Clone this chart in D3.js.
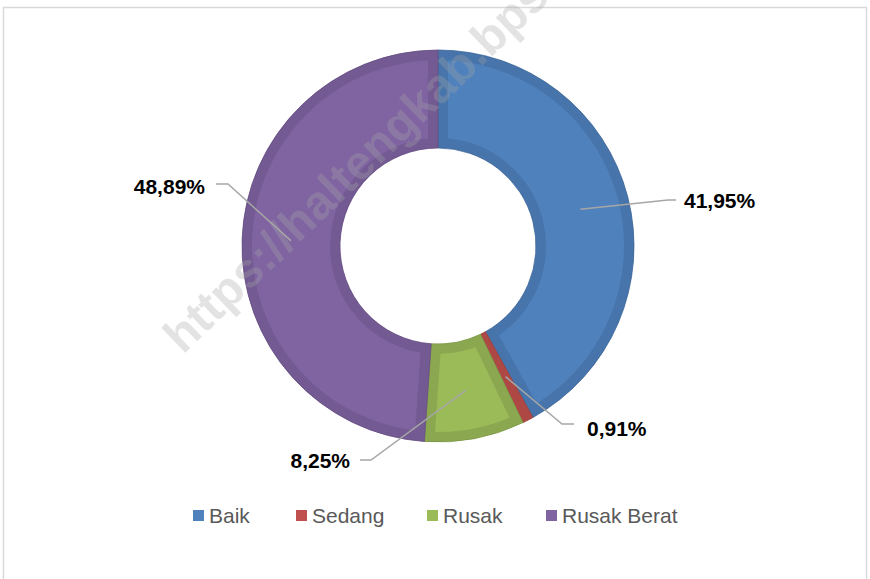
<!DOCTYPE html>
<html>
<head>
<meta charset="utf-8">
<script src="https://cdn.jsdelivr.net/npm/d3@7"></script>
<style>
  body { margin: 0; background: #fff; }
  svg { display: block; }
</style>
</head>
<body>
<svg id="drawing_region"></svg>
<script>
var categories = ['Baik', 'Sedang', 'Rusak', 'Rusak Berat'];
var values = [41.95, 0.91, 8.25, 48.89];
var labels = ['41,95%', '0,91%', '8,25%', '48,89%'];
var colors = ['#4F81BD', '#C0504D', '#9BBB59', '#8064A2'];

var width = 870, height = 579;
var cx = 438, cy = 246;
var outerR = 196, innerR = 98;

// where each label sits (elbow of the leader line, text anchor)
var labelLayout = [
    { ex: 230, ey: -46, hx: 238, tx: 246, ty: -38, anchor: 'start' },
    { ex: 124, ey: 178, hx: 136, tx: 149, ty: 190, anchor: 'start' },
    { ex: -67, ey: 214, hx: -78, tx: -88, ty: 222, anchor: 'end' },
    { ex: -210, ey: -62, hx: -222, tx: -233, ty: -52, anchor: 'end' }
];

var data = categories.map(function(c, i) {
    return { name: c, value: values[i], label: labels[i], color: colors[i] };
});

var svg = d3.select('#drawing_region')
    .attr('width', width)
    .attr('height', height);

// frame
svg.append('rect')
    .attr('x', 3.5).attr('y', 7.5)
    .attr('width', 863).attr('height', 600)
    .attr('fill', '#fff')
    .attr('stroke', '#d9d9d9')
    .attr('stroke-width', 1.5);

var g = svg.append('g')
    .attr('transform', 'translate(' + cx + ',' + cy + ')');

var pie = d3.pie()
    .value(function(d) { return d.value; })
    .sort(null);

var arc = d3.arc()
    .innerRadius(innerR)
    .outerRadius(outerR);

var arcs = pie(data);

var defs = svg.append('defs');
arcs.forEach(function(a, i) {
    defs.append('clipPath')
        .attr('id', 'clip' + i)
        .append('path')
        .attr('d', arc(a));
});

var slices = g.selectAll('g.slice')
    .data(arcs)
    .enter()
    .append('g')
    .attr('class', 'slice');

slices.append('path')
    .attr('d', arc)
    .attr('fill', function(d) { return d.data.color; })
    .attr('clip-path', function(d, i) { return 'url(#clip' + i + ')'; })
    .attr('stroke', function(d) { return d3.color(d.data.color).darker(0.3); })
    .attr('stroke-width', 20);

slices.append('path')
    .attr('d', arc)
    .attr('fill', 'none')
    .attr('stroke', function(d) { return d3.color(d.data.color).darker(0.6); })
    .attr('stroke-width', 0.8);

// leader lines
var midArc = d3.arc()
    .innerRadius((innerR + outerR) / 2)
    .outerRadius((innerR + outerR) / 2);

arcs.forEach(function(a, i) {
    var p = midArc.centroid(a);
    var L = labelLayout[i];
    g.append('polyline')
        .attr('points', [p, [L.ex, L.ey], [L.hx, L.ey]].map(function(q) { return q.join(','); }).join(' '))
        .attr('fill', 'none')
        .attr('stroke', '#a6a6a6')
        .attr('stroke-width', 1.5);
    g.append('text')
        .attr('x', L.tx)
        .attr('y', L.ty)
        .attr('text-anchor', L.anchor)
        .style('font-family', 'Liberation Sans, Arial, sans-serif')
        .style('font-weight', 'bold')
        .style('font-size', '21px')
        .attr('fill', '#000')
        .text(a.data.label);
});

// legend
var legendX = [193, 296, 427, 546];
var legend = svg.append('g');
data.forEach(function(d, i) {
    legend.append('rect')
        .attr('x', legendX[i]).attr('y', 510)
        .attr('width', 11).attr('height', 11)
        .attr('fill', d.color);
    legend.append('text')
        .attr('x', legendX[i] + 16)
        .attr('y', 523)
        .style('font-family', 'Liberation Sans, Arial, sans-serif')
        .style('font-size', '21px')
        .attr('fill', '#595959')
        .text(d.name);
});

// watermark
svg.append('text')
    .attr('transform', 'translate(183,355) rotate(-44)')
    .style('font-family', 'Liberation Sans, Arial, sans-serif')
    .style('font-weight', 'bold')
    .style('font-size', '48px')
    .attr('fill', '#a6a6a6')
    .attr('opacity', 0.3)
    .text('https://haltengkab.bps.go.id');
</script>
</body>
</html>
